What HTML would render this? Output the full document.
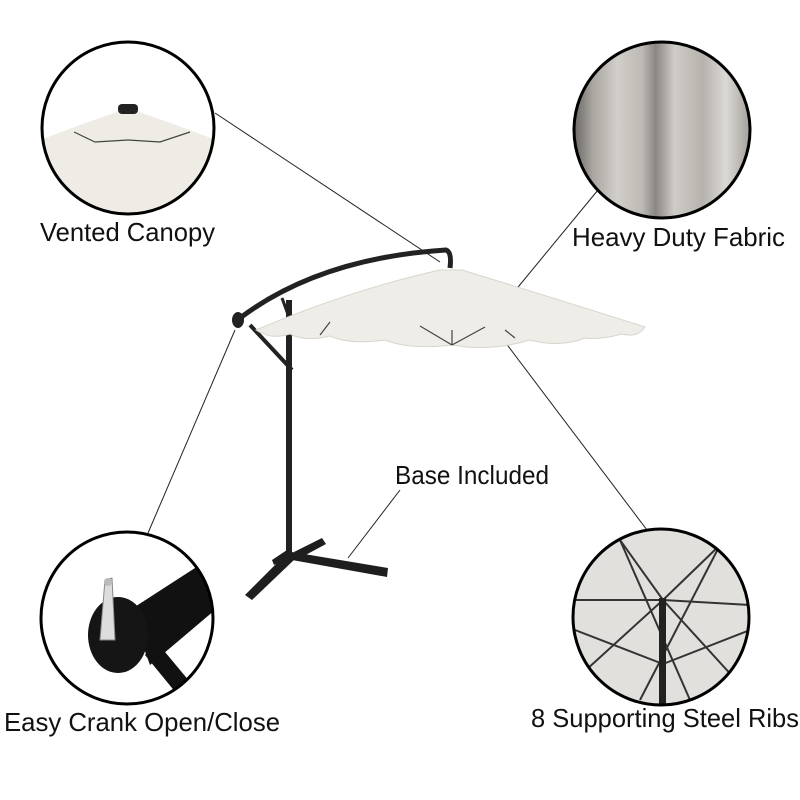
<!DOCTYPE html>
<html><head><meta charset="utf-8"><style>
html,body{margin:0;padding:0;background:#fff;}
svg{display:block}
text{font-family:"Liberation Sans",sans-serif;fill:#111;}
</style></head><body>
<svg width="800" height="800" viewBox="0 0 800 800" xmlns="http://www.w3.org/2000/svg">
<defs>
<linearGradient id="fab" x1="0" x2="1">
<stop offset="0" stop-color="#5e5b57"/><stop offset="0.12" stop-color="#a9a5a0"/><stop offset="0.25" stop-color="#d2cfca"/><stop offset="0.38" stop-color="#bdb9b4"/><stop offset="0.45" stop-color="#8a8681"/><stop offset="0.55" stop-color="#cfccc7"/><stop offset="0.7" stop-color="#b6b2ad"/><stop offset="0.82" stop-color="#dcd9d5"/><stop offset="1" stop-color="#8d8984"/>
</linearGradient>
<clipPath id="c1"><circle cx="128" cy="128" r="85"/></clipPath>
<clipPath id="c2"><circle cx="662" cy="130" r="87"/></clipPath>
<clipPath id="c3"><circle cx="127" cy="618" r="85"/></clipPath>
<clipPath id="c4"><circle cx="661" cy="617" r="87"/></clipPath>
</defs>
<g stroke="#222" stroke-width="1" fill="none">
<line x1="215" y1="113" x2="440" y2="262"/>
<line x1="514" y1="292" x2="598" y2="190"/>
<line x1="505" y1="342" x2="647" y2="530"/>
<line x1="235" y1="330" x2="148" y2="533"/>
<line x1="400" y1="490" x2="348" y2="558"/>
</g>
<!-- circle 1 -->
<g clip-path="url(#c1)">
<rect x="40" y="40" width="180" height="180" fill="#fff"/>
<path d="M40 140 L80 125 L128 108 L176 125 L216 140 L216 220 L40 220Z" fill="#efebe5"/>
<path d="M74 132 L95 142 L128 140 L160 142 L190 132" fill="none" stroke="#444" stroke-width="1.2"/>
<rect x="118" y="104" width="20" height="10" rx="4" fill="#222"/>
</g>
<circle cx="128" cy="128" r="86" fill="none" stroke="#000" stroke-width="3"/>
<!-- circle 2 -->
<g clip-path="url(#c2)"><rect x="570" y="40" width="190" height="180" fill="url(#fab)"/></g>
<circle cx="662" cy="130" r="88" fill="none" stroke="#000" stroke-width="3"/>
<!-- circle 3 -->
<g clip-path="url(#c3)">
<rect x="30" y="530" width="190" height="180" fill="#fff"/>
<path d="M130 610 L215 555 L215 610 L150 665Z" fill="#111"/>
<ellipse cx="118" cy="635" rx="30" ry="38" fill="#151515"/>
<path d="M155 640 L205 700 L190 710 L145 655Z" fill="#111"/>
<path d="M105 580 L112 578 L115 640 L100 640Z" fill="#ddd" stroke="#888"/>
<circle cx="108" cy="582" r="4" fill="#bbb"/>
</g>
<circle cx="127" cy="618" r="86" fill="none" stroke="#000" stroke-width="3"/>
<!-- circle 4 -->
<g clip-path="url(#c4)">
<rect x="570" y="525" width="185" height="185" fill="#e2e0dd"/>
<g stroke="#333" stroke-width="2">
<line x1="663" y1="600" x2="570" y2="600"/><line x1="663" y1="600" x2="750" y2="605"/>
<line x1="663" y1="600" x2="620" y2="540"/><line x1="663" y1="600" x2="720" y2="545"/>
<line x1="663" y1="600" x2="575" y2="680"/><line x1="663" y1="600" x2="745" y2="690"/>
<line x1="620" y1="540" x2="690" y2="700"/><line x1="720" y1="545" x2="640" y2="700"/>
<line x1="575" y1="630" x2="663" y2="664"/><line x1="750" y1="630" x2="663" y2="664"/>
</g>
<rect x="659" y="598" width="7" height="115" fill="#222"/>
</g>
<circle cx="661" cy="617" r="88" fill="none" stroke="#000" stroke-width="3"/>
<!-- umbrella -->
<path d="M240 318 Q320 258 446 250 Q452 252 450 268" fill="none" stroke="#222" stroke-width="5"/>
<line x1="250" y1="325" x2="292" y2="370" stroke="#222" stroke-width="4"/>
<line x1="282" y1="298" x2="290" y2="320" stroke="#222" stroke-width="3"/>
<rect x="286" y="300" width="6" height="255" fill="#222"/>
<ellipse cx="238" cy="320" rx="6" ry="8" fill="#222"/>
<path d="M256 330 Q350 290 440 270 L462 270 Q560 300 645 327 Q638 338 622 334 Q600 340 585 338 Q560 348 530 340 Q490 352 452 345 Q410 350 385 340 Q350 345 330 336 Q305 342 290 334 Q270 340 256 330Z" fill="#efede8" stroke="#d9d5cd"/>
<g stroke="#444" stroke-width="1.2"><line x1="452" y1="345" x2="420" y2="326"/><line x1="452" y1="345" x2="485" y2="327"/><line x1="452" y1="345" x2="452" y2="330"/><line x1="320" y1="335" x2="330" y2="322"/><line x1="505" y1="330" x2="515" y2="338"/></g>
<!-- base -->
<g fill="#1e1e1e">
<polygon points="292,552 388,568 387,577 292,560"/>
<polygon points="288,552 245,595 252,600 296,558"/>
<polygon points="294,552 322,538 326,544 300,558"/>
<polygon points="272,560 290,548 292,556 274,565"/>
</g>
<text x="40" y="241" font-size="26" textLength="175" lengthAdjust="spacingAndGlyphs">Vented Canopy</text>
<text x="572" y="246" font-size="26" textLength="213" lengthAdjust="spacingAndGlyphs">Heavy Duty Fabric</text>
<text x="395" y="484" font-size="26" textLength="154" lengthAdjust="spacingAndGlyphs">Base Included</text>
<text x="4" y="731" font-size="26" textLength="276" lengthAdjust="spacingAndGlyphs">Easy Crank Open/Close</text>
<text x="531" y="727" font-size="26" textLength="268" lengthAdjust="spacingAndGlyphs">8 Supporting Steel Ribs</text>
</svg>
</body></html>
